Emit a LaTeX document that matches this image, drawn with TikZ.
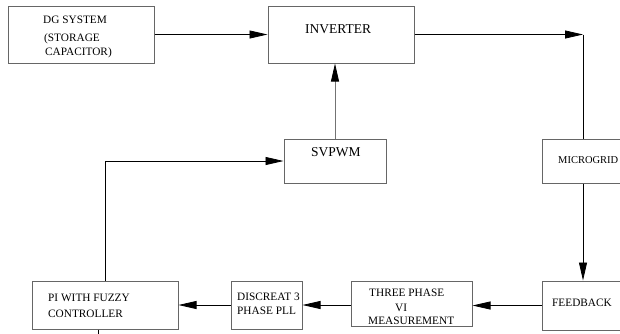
\documentclass[tikz,border=0pt]{standalone}
\usepackage{fontspec}
\setmainfont{Liberation Serif}
\usetikzlibrary{arrows.meta}
\begin{document}
\begin{tikzpicture}[x={(1pt,0)},y={(0,-1pt)},
  blk/.style={draw=black!60,line width=1pt,rectangle,inner sep=0pt},
  lbl/.style={anchor=base west,inner sep=0pt,font=\rmfamily\fontsize{11.3}{13}\selectfont},
  conn/.style={draw=black,line width=0.8pt},
  arr/.style={conn,-{Triangle[length=18pt,width=8pt,color=black]}}]
\useasboundingbox (0,0) rectangle (620,333);
\clip (0,0) rectangle (620,333);
% boxes
\node[blk,minimum width=146pt,minimum height=57pt] (dg) at (81,34.5) {};
\node[blk,minimum width=146pt,minimum height=57pt] (inv) at (341,34.5) {};
\node[blk,minimum width=102pt,minimum height=44pt] (svpwm) at (335,161) {};
\node[blk,minimum width=98pt,minimum height=44pt] (micro) at (591,161) {};
\node[blk,minimum width=98pt,minimum height=49pt] (fb) at (591,305.5) {};
\node[blk,minimum width=121pt,minimum height=45pt] (three) at (411.5,303.5) {};
\node[blk,minimum width=71pt,minimum height=48pt] (pll) at (266.5,305) {};
\node[blk,minimum width=146pt,minimum height=48pt] (pi) at (105,305) {};
% texts
\node[lbl] (t1) at (43,23) {DG SYSTEM};
\node[lbl] (t2) at (44,41) {(STORAGE};
\node[lbl] (t3) at (45,55.5) {CAPACITOR)};
\node[lbl,font=\rmfamily\fontsize{13.5}{15}\selectfont] (t4) at (305,33.3) {INVERTER};
\node[lbl,font=\rmfamily\fontsize{13.5}{15}\selectfont] (t5) at (311,156.7) {SVPWM};
\node[lbl,font=\rmfamily\fontsize{10.5}{12}\selectfont] (t6) at (558,163) {MICROGRID};
\node[lbl] (t7) at (552,306.7) {FEEDBACK};
\node[lbl] (t8) at (369,296.7) {THREE PHASE};
\node[lbl] (t9) at (395,311.7) {VI};
\node[lbl] (t10) at (368,324.3) {MEASUREMENT};
\node[lbl] (t11) at (237,300) {DISCREAT 3};
\node[lbl] (t12) at (237,314) {PHASE PLL};
\node[lbl] (t13) at (48,301.7) {PI WITH FUZZY};
\node[lbl] (t14) at (48,317.3) {CONTROLLER};
% connectors
\coordinate (c1) at (583,34.5);
\coordinate (c2) at (98,340);
\draw[arr] (dg) -- (inv);
\draw[arr] (inv.east) -- (c1);
\draw[conn] (c1) -- (c1 |- micro.north);
\draw[arr] (c1 |- micro.south) -- (c1 |- fb.north);
\draw[arr] (fb.west) -- (three.east |- fb.west);
\draw[arr] (three.west |- pll.east) -- (pll.east);
\draw[arr] (pll.west) -- (pi.east);
\draw[arr] (pi.north) |- (svpwm.west);
\draw[arr,draw=black!55] (svpwm.north) -- (inv.south -| svpwm.north);
\draw[conn] (c2 |- pi.south) -- (c2);
\end{tikzpicture}
\end{document}
